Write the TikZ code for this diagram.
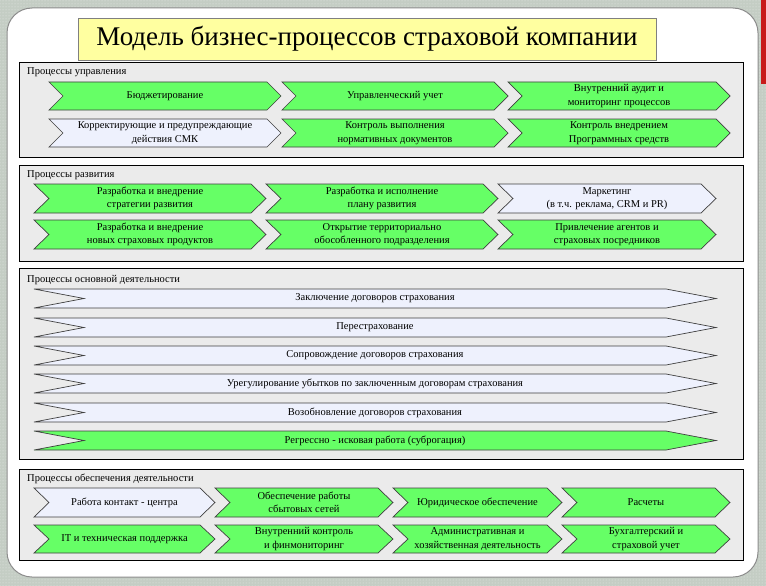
\documentclass[tikz,border=0pt]{standalone}
\usepackage{fontspec}
\setmainfont{Liberation Serif}
\usetikzlibrary{patterns}
\definecolor{bgGray}{RGB}{196,205,196}
\definecolor{procGreen}{RGB}{102,255,102}
\definecolor{procLight}{RGB}{238,241,253}
\definecolor{frameGray}{RGB}{235,235,235}
\definecolor{titleYellow}{RGB}{255,255,160}
\definecolor{edgeRed}{RGB}{200,25,25}

% chevron: name, left x, tip x, top y, bottom y, notch depth, fill, text
\newcommand{\chev}[8]{%
  \draw[chevline, fill=#7] (#2,#4) -- (#3-#6,#4) -- (#3,{(#4+#5)/2})
    -- (#3-#6,#5) -- (#2,#5) -- (#2+#6,{(#4+#5)/2}) -- cycle;
  \node[chevtext] (#1) at ({(#2+#3)/2},{(#4+#5)/2}) {#8};}

\begin{document}
\begin{tikzpicture}[x=1pt, y=-1pt,
    chevline/.style={draw=black!75, line width=0.7pt},
    chevtext/.style={align=center, inner sep=0pt, font=\fontsize{10.5}{13.5}\selectfont},
    secframe/.style={draw=black, line width=0.8pt, fill=frameGray},
    seclabel/.style={anchor=west, inner sep=0pt, font=\fontsize{10.5}{12}\selectfont}]
    \useasboundingbox (0,0) rectangle (766,586);
    % --- backdrop and white sheet ---
    \fill[bgGray] (0,0) rectangle (766,586);
    \fill[pattern=dots, pattern color=white!60!bgGray] (0,0) rectangle (766,586);
    \fill[edgeRed] (761,0) rectangle (766,84);
    \draw[black!45, line width=1pt, fill=white, rounded corners=25pt] (7,8) rectangle (758,577);
    % --- title ---
    \draw[black!50, fill=titleYellow] (78,18) rectangle (656,60);
    \node[font=\fontsize{27}{30}\selectfont] (title) at (367,39) {Модель бизнес-процессов страховой компании};
    % --- management processes ---
    \draw[secframe] (19,62) rectangle (743,157);
    \node[seclabel] (lblupr) at (27,72) {Процессы управления};
    \chev{budget}{49}{281}{82}{110}{14}{procGreen}{Бюджетирование}
    \chev{upruchet}{282}{508}{82}{110}{14}{procGreen}{Управленческий учет}
    \chev{audit}{508}{730}{82}{110}{14}{procGreen}{Внутренний аудит и\\мониторинг процессов}
    \chev{smk}{49}{281}{119}{147}{14}{procLight}{Корректирующие и предупреждающие\\действия СМК}
    \chev{kontrnd}{282}{508}{119}{147}{14}{procGreen}{Контроль выполнения\\нормативных документов}
    \chev{kontrps}{508}{730}{119}{147}{14}{procGreen}{Контроль внедрением\\Программных средств}
    % --- development processes ---
    \draw[secframe] (19,165) rectangle (743,261);
    \node[seclabel] (lblraz) at (27,175) {Процессы развития};
    \chev{strat}{34}{266}{184}{213}{15}{procGreen}{Разработка и внедрение\\стратегии развития}
    \chev{plan}{266}{498}{184}{213}{15}{procGreen}{Разработка и исполнение\\плану развития}
    \chev{market}{498}{716}{184}{213}{15}{procLight}{Маркетинг\\(в т.ч. реклама, CRM и PR)}
    \chev{produkt}{34}{266}{220}{249}{15}{procGreen}{Разработка и внедрение\\новых страховых продуктов}
    \chev{filial}{266}{498}{220}{249}{15}{procGreen}{Открытие территориально\\обособленного подразделения}
    \chev{agent}{498}{716}{220}{249}{15}{procGreen}{Привлечение агентов и\\страховых посредников}
    % --- core processes ---
    \draw[secframe] (19,268) rectangle (743,459);
    \node[seclabel] (lblosn) at (27,280) {Процессы основной деятельности};
    \chev{zakl}{34}{716}{289}{308}{50}{procLight}{Заключение договоров страхования}
    \chev{perestr}{34}{716}{318}{337}{50}{procLight}{Перестрахование}
    \chev{soprov}{34}{716}{346}{365}{50}{procLight}{Сопровождение договоров страхования}
    \chev{ubytki}{34}{716}{374}{393}{50}{procLight}{Урегулирование убытков по заключенным договорам страхования}
    \chev{vozob}{34}{716}{403}{422}{50}{procLight}{Возобновление договоров страхования}
    \chev{regress}{34}{716}{431}{450}{50}{procGreen}{Регрессно - исковая работа (суброгация)}
    % --- support processes ---
    \draw[secframe] (19,469) rectangle (743,560);
    \node[seclabel] (lblobesp) at (27,479) {Процессы обеспечения деятельности};
    \chev{kcentr}{34}{215}{488}{517}{15}{procLight}{Работа контакт - центра}
    \chev{sbyt}{215}{393}{488}{517}{15}{procGreen}{Обеспечение работы\\сбытовых сетей}
    \chev{yurist}{393}{562}{488}{517}{15}{procGreen}{Юридическое обеспечение}
    \chev{raschet}{562}{730}{488}{517}{15}{procGreen}{Расчеты}
    \chev{itsupp}{34}{215}{525}{553}{15}{procGreen}{IT и техническая поддержка}
    \chev{finmon}{215}{393}{525}{553}{15}{procGreen}{Внутренний контроль\\и финмониторинг}
    \chev{adm}{393}{562}{525}{553}{15}{procGreen}{Административная и\\хозяйственная деятельность}
    \chev{buhuchet}{562}{730}{525}{553}{15}{procGreen}{Бухгалтерский и\\страховой учет}
\end{tikzpicture}
\end{document}
